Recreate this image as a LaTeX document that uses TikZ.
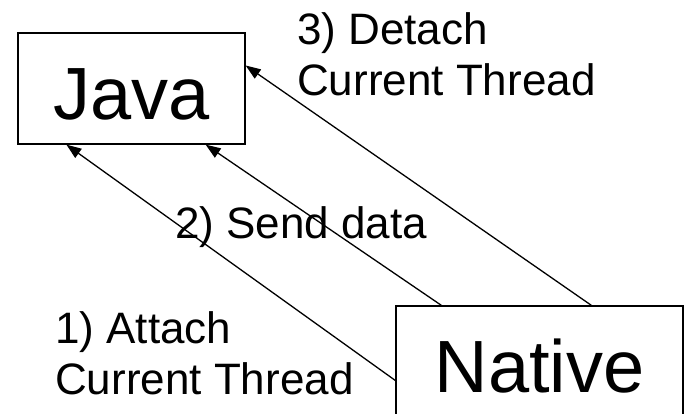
\documentclass[tikz,border=0pt]{standalone}
\usepackage{fontspec}
\setmainfont{Liberation Sans}
\usetikzlibrary{arrows.meta,positioning}

\begin{document}
\begin{tikzpicture}[
    x=1pt,y=1pt,
    box/.style={draw=black,line width=1.3pt,inner sep=0pt,font=\fontsize{74}{80}\selectfont},
    lbl/.style={anchor=north west,inner sep=0pt,align=left,font=\fontsize{44}{51}\selectfont},
    arrow/.style={-{Triangle[length=15pt,width=11pt]},line width=1.3pt}
  ]
    \useasboundingbox (0,0) rectangle (689,414);
    \node[box,minimum width=227pt,minimum height=111pt,text height=63pt,text depth=0pt] (java) at (131.5,325.5) {Java};
    \node[box,minimum width=287pt,minimum height=121pt] (native) at (539.5,47.5) {Native};
    \node[lbl] (detach) at (297,402) {3) Detach\\Current Thread};
    \node[lbl] (send) at (175,208) {2) Send data};
    \node[lbl] (attach) at (55,103) {1) Attach\\Current Thread};
    \draw[arrow] ([yshift=-14pt]native.west) -- ([xshift=49pt]java.south west);
    \draw[arrow] ([xshift=46pt]native.north west) -- ([xshift=-40pt]java.south east);
    \draw[arrow] ([xshift=196pt]native.north west) -- ([yshift=23pt]java.east);
  \end{tikzpicture}
\end{document}
